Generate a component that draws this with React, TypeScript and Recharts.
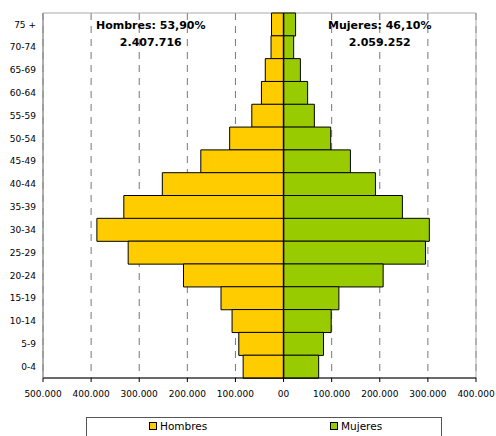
import React from 'react';
import {
  BarChart, Bar, XAxis, YAxis, CartesianGrid, Legend, ReferenceArea, ReferenceDot, ReferenceLine,
} from 'recharts';

const ageGroups = ['75 +', '70-74', '65-69', '60-64', '55-59', '50-54', '45-49', '40-44', '35-39', '30-34', '25-29', '20-24', '15-19', '10-14', '5-9', '0-4'];
const hombres = [25000, 26000, 38000, 46000, 66000, 112000, 172000, 252000, 332000, 388000, 323000, 208000, 130000, 107000, 93000, 84000];
const mujeres = [25000, 21000, 35000, 50000, 64000, 98000, 139000, 191000, 247000, 303000, 295000, 207000, 115000, 99000, 83000, 73000];
const xTicks = [-500000, -400000, -300000, -200000, -100000, 0, 100000, 200000, 300000, 400000];
const seriesNames = ['Hombres', 'Mujeres'];
const seriesColors = ['#FFCC00', '#99CC00'];
const totalsText = [
  ['Hombres: 53,90%', '2.407.716'],
  ['Mujeres: 46,10%', '2.059.252'],
];

const data = ageGroups.map((age, i) => ({ age, Hombres: -hombres[i], Mujeres: mujeres[i] }));

const FONT = '"DejaVu Sans", Verdana, sans-serif';

const fmt = (v: number) => {
  if (v === 0) return '00';
  const a = Math.abs(v);
  return String(a).replace(/\B(?=(\d{3})+(?!\d))/g, '.');
};

const makeLabel = (lines: string[]) => (props: any) => {
  const vb = props.viewBox || {};
  const cx = vb.cx ?? (vb.x + (vb.width || 0) / 2);
  const cy = vb.cy ?? (vb.y + (vb.height || 0) / 2);
  return (
    <text x={cx} y={cy} textAnchor="middle" fontFamily={FONT} fontSize={11} fontWeight="bold" fill="#000">
      <tspan x={cx} dy={5}>{lines[0]}</tspan>
      <tspan x={cx} dy={17}>{lines[1]}</tspan>
    </text>
  );
};

const LegendBox = () => (
  <div style={{
    width: 356, height: 22, border: '1px solid #555', boxSizing: 'border-box', position: 'relative',
    fontFamily: FONT, fontSize: 10.5, color: '#000', background: '#fff',
  }}>
    {seriesNames.map((n, i) => (
      <div key={n} style={{ position: 'absolute', left: i === 0 ? 62 : 243, top: 2, display: 'flex', alignItems: 'center', whiteSpace: 'nowrap' }}>
        <span style={{ display: 'inline-block', width: 6, height: 6, background: seriesColors[i], border: '1px solid #000', marginRight: 3 }} />
        <span>{n}</span>
      </div>
    ))}
  </div>
);

export default function App() {
  return (
    <div style={{ position: 'absolute', left: 0, top: 0, width: 496, height: 436, overflow: 'hidden', background: '#fff' }}>
      <BarChart
        width={496}
        height={436}
        data={data}
        layout="vertical"
        stackOffset="sign"
        barCategoryGap={0}
        margin={{ top: 13, right: 20, left: 0, bottom: 10 }}
      >
        <CartesianGrid horizontal={false} stroke="#777" strokeDasharray="7 6" />
        <ReferenceArea x1={-500000} x2={400000} fill="none" stroke="#aaa" strokeWidth={1} ifOverflow="extendDomain" />
        <XAxis
          type="number"
          domain={[-500000, 400000]}
          ticks={xTicks}
          tickFormatter={fmt}
          interval={0}
          height={26}
          tick={{ fontFamily: FONT, fontSize: 9, fill: '#000' }}
          axisLine={{ stroke: '#000' }}
          tickLine={{ stroke: '#000' }}
          tickSize={4}
          tickMargin={9}
        />
        <YAxis
          type="category"
          dataKey="age"
          width={43}
          interval={0}
          tick={{ fontFamily: FONT, fontSize: 9, fill: '#000' }}
          axisLine={{ stroke: '#888' }}
          tickLine={false}
          tickSize={0}
          tickMargin={7}
        />
        <Legend
          verticalAlign="bottom"
          content={<LegendBox />}
          wrapperStyle={{ left: 86, top: 417, bottom: 'auto', width: 356, height: 22 }}
        />
        <Bar dataKey="Hombres" stackId="a" fill={seriesColors[0]} stroke="#000" strokeWidth={1} isAnimationActive={false} />
        <Bar dataKey="Mujeres" stackId="a" fill={seriesColors[1]} stroke="#000" strokeWidth={1} isAnimationActive={false} />
        <ReferenceLine x={0} stroke="#000" strokeWidth={1.5} />
        <ReferenceDot x={-276000} y="75 +" r={0} fill="none" stroke="none" label={makeLabel(totalsText[0])} />
        <ReferenceDot x={200000} y="75 +" r={0} fill="none" stroke="none" label={makeLabel(totalsText[1])} />
      </BarChart>
    </div>
  );
}
